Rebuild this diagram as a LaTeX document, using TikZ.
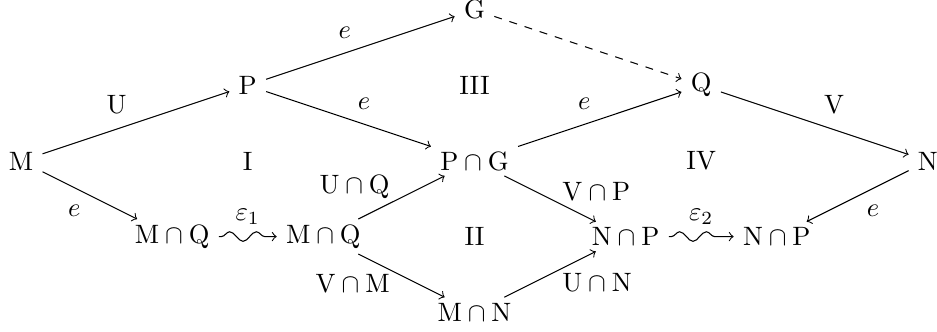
\documentclass[tikz,border=0pt]{standalone}
\usetikzlibrary{decorations.pathmorphing}
\tikzset{
    objnode/.style={inner xsep=0.3333em, inner ysep=2pt},
    maparrow/.style={->},
    wavearrow/.style={->, decorate, decoration={snake, amplitude=1.8pt, segment length=10pt, pre length=1pt, post length=3pt}},
    cutlabel/.style={inner sep=1pt},
    regionnote/.style={inner sep=0pt}
}
\begin{document}
\begin{tikzpicture}[x=1cm, y=1cm]
        \useasboundingbox (-0.278,-2.25) rectangle (12.12,2.13);

        \node[objnode] (m) at (0,0) {$\mathrm{M}$};
        \node[objnode] (p) at (3,1) {$\mathrm{P}$};
        \node[objnode] (g) at (6,2) {$\mathrm{G}$};
        \node[objnode] (q) at (9,1) {$\mathrm{Q}$};
        \node[objnode] (n) at (12,0) {$\mathrm{N}$};
        \node[objnode] (pg) at (6,0) {$\mathrm{P}\cap\mathrm{G}$};
        \node[objnode] (mqa) at (2,-1) {$\mathrm{M}\cap\mathrm{Q}$};
        \node[objnode] (mqb) at (4,-1) {$\mathrm{M}\cap\mathrm{Q}$};
        \node[objnode] (mn) at (6,-2) {$\mathrm{M}\cap\mathrm{N}$};
        \node[objnode] (npa) at (8,-1) {$\mathrm{N}\cap\mathrm{P}$};
        \node[objnode] (npb) at (10,-1) {$\mathrm{N}\cap\mathrm{P}$};

        \node[regionnote] (rI) at (3,0) {I};
        \node[regionnote] (rII) at (6,-1) {II};
        \node[regionnote] (rIII) at (6,1) {III};
        \node[regionnote] (rIV) at (9,0) {IV};

        \draw[maparrow] (m) -- node[above left]{$\mathrm{U}$} (p);
        \draw[maparrow] (p) -- node[above left]{$e$} (g);
        \draw[maparrow] (p) -- node[above right]{$e$} (pg);
        \draw[maparrow, dashed] (g) -- (q);
        \draw[maparrow] (pg) -- node[above left]{$e$} (q);
        \draw[maparrow] (q) -- node[above right]{$\mathrm{V}$} (n);
        \draw[maparrow] (m) -- node[below left]{$e$} (mqa);
        \draw[maparrow] (n) -- node[below right]{$e$} (npb);
        \draw[wavearrow] (mqa) -- node[above=1pt]{$\varepsilon_1$} (mqb);
        \draw[wavearrow] (npa) -- node[above=1pt]{$\varepsilon_2$} (npb);
        \draw[maparrow] (mqb) -- node[cutlabel, pos=0.4, above left]{$\mathrm{U}\cap\mathrm{Q}$} (pg);
        \draw[maparrow] (mqb) -- node[cutlabel, pos=0.4, below left]{$\mathrm{V}\cap\mathrm{M}$} (mn);
        \draw[maparrow] (pg) -- node[cutlabel, pos=0.6, above right]{$\mathrm{V}\cap\mathrm{P}$} (npa);
        \draw[maparrow] (mn) -- node[cutlabel, pos=0.6, below right]{$\mathrm{U}\cap\mathrm{N}$} (npa);
    \end{tikzpicture}
\end{document}
